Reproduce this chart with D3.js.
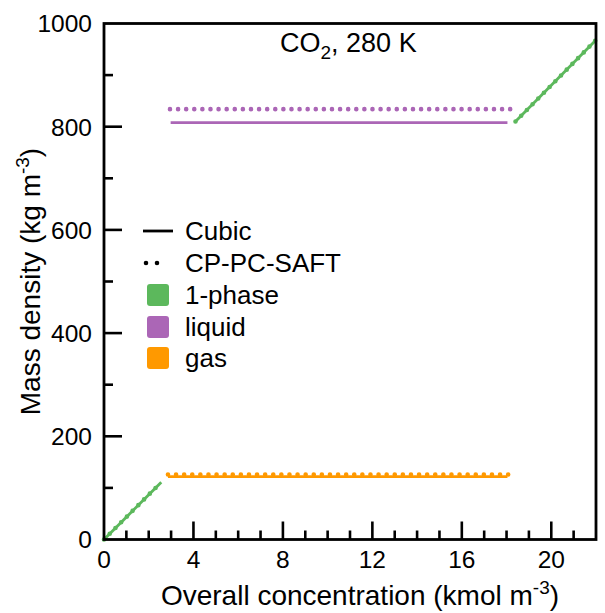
<!DOCTYPE html>
<html>
<head>
<meta charset="utf-8">
<script src="https://cdn.jsdelivr.net/npm/d3@7"></script>
<style>
  body { margin: 0; background: #fff; }
  text { font-family: "Liberation Sans", Arial, sans-serif; fill: #000; }
</style>
</head>
<body>
<svg id="chart" width="605" height="613"></svg>
<script>
// Mass density of CO2 at 280 K versus overall concentration
const xTicks = [0, 4, 8, 12, 16, 20];
const yTicks = [0, 200, 400, 600, 800, 1000];

// Cubic equation of state (solid lines): [concentration, density]
const cubicOnePhaseLow  = [[0, 0], [2.56, 111]];
const cubicOnePhaseHigh = [[18.4, 810], [22, 968]];
const cubicLiquid       = [[2.98, 808], [18.04, 808]];
const cubicGas          = [[2.86, 122], [18.04, 122]];

// CP-PC-SAFT (dotted lines)
const saftOnePhaseLow  = [[0, 0], [2.56, 111]];
const saftOnePhaseHigh = [[18.4, 810], [22, 968]];
const saftLiquid       = [[2.95, 834], [18.42, 834]];
const saftGas          = [[2.86, 126], [18.42, 126]];

const colors = { onePhase: "#5cb85c", liquid: "#ab66b6", gas: "#ff9900" };

const svg = d3.select("#chart");
const m = { left: 104, right: 596, top: 23.5, bottom: 539.5 };

const x = d3.scaleLinear().domain([0, 22]).range([m.left, m.right]);
const y = d3.scaleLinear().domain([0, 1000]).range([m.bottom, m.top]);
const line = d3.line().x(d => x(d[0])).y(d => y(d[1]));

// data lines
const plot = svg.append("g");
function solid(data, color) {
  plot.append("path").datum(data).attr("d", line)
    .attr("fill", "none").attr("stroke", color).attr("stroke-width", 2.8);
}
function dotted(data, color) {
  plot.append("path").datum(data).attr("d", line)
    .attr("fill", "none").attr("stroke", color).attr("stroke-width", 4.6)
    .attr("stroke-linecap", "round").attr("stroke-dasharray", "0 8.1");
}
solid(cubicOnePhaseLow, colors.onePhase);
solid(cubicOnePhaseHigh, colors.onePhase);
solid(cubicLiquid, colors.liquid);
solid(cubicGas, colors.gas);
dotted(saftOnePhaseLow, colors.onePhase);
dotted(saftOnePhaseHigh, colors.onePhase);
dotted(saftLiquid, colors.liquid);
dotted(saftGas, colors.gas);

// frame
svg.append("rect").attr("x", m.left).attr("y", m.top)
  .attr("width", m.right - m.left).attr("height", m.bottom - m.top)
  .attr("fill", "none").attr("stroke", "#000").attr("stroke-width", 2.8);

const tickFont = 24.5, titleFont = 28, legendFont = 26;

// x axis: inward ticks, minor every 1
const xAxis = svg.append("g").attr("transform", `translate(0,${m.bottom})`);
xAxis.selectAll("line.minor").data(d3.range(1, 22).filter(v => v % 4 !== 0))
  .join("line").attr("class", "minor").attr("x1", d => x(d)).attr("x2", d => x(d))
  .attr("y1", 0).attr("y2", -9).attr("stroke", "#000").attr("stroke-width", 2.6);
xAxis.selectAll("line.major").data(xTicks.filter(v => v > 0))
  .join("line").attr("class", "major").attr("x1", d => x(d)).attr("x2", d => x(d))
  .attr("y1", 0).attr("y2", -18).attr("stroke", "#000").attr("stroke-width", 2.6);
xAxis.selectAll("text").data(xTicks).join("text")
  .attr("x", d => x(d)).attr("y", 28.5).attr("text-anchor", "middle")
  .attr("font-size", tickFont).text(d => d);

// y axis: inward ticks, minor every 100
const yAxis = svg.append("g").attr("transform", `translate(${m.left},0)`);
yAxis.selectAll("line.minor").data(d3.range(100, 1000, 200))
  .join("line").attr("class", "minor").attr("y1", d => y(d)).attr("y2", d => y(d))
  .attr("x1", 0).attr("x2", 9).attr("stroke", "#000").attr("stroke-width", 2.6);
yAxis.selectAll("line.major").data(yTicks.filter(v => v > 0 && v < 1000))
  .join("line").attr("class", "major").attr("y1", d => y(d)).attr("y2", d => y(d))
  .attr("x1", 0).attr("x2", 18).attr("stroke", "#000").attr("stroke-width", 2.6);
yAxis.selectAll("text").data(yTicks).join("text")
  .attr("x", -12).attr("y", d => y(d) + 8.8).attr("text-anchor", "end")
  .attr("font-size", tickFont).text(d => d);

// axis titles
const xt = svg.append("text").attr("x", (m.left + m.right) / 2 + 10).attr("y", 605)
  .attr("text-anchor", "middle").attr("font-size", titleFont);
xt.append("tspan").text("Overall concentration (kmol m");
xt.append("tspan").attr("dy", -11).attr("font-size", 19).text("-3");
xt.append("tspan").attr("dy", 11).text(")");

const yt = svg.append("text")
  .attr("transform", `translate(40,${(m.top + m.bottom) / 2}) rotate(-90)`)
  .attr("text-anchor", "middle").attr("font-size", titleFont);
yt.append("tspan").text("Mass density (kg m");
yt.append("tspan").attr("dy", -11).attr("font-size", 19).text("-3");
yt.append("tspan").attr("dy", 11).text(")");

// title
const title = svg.append("text").attr("x", 280).attr("y", 52).attr("font-size", 27);
title.append("tspan").text("CO");
title.append("tspan").attr("dy", 7).attr("font-size", 19).text("2");
title.append("tspan").attr("dy", -7).text(", 280 K");

// legend
const legendStyles = ["Cubic", "CP-PC-SAFT"];
const legendPhases = [["1-phase", colors.onePhase], ["liquid", colors.liquid], ["gas", colors.gas]];
const lg = svg.append("g");
const rowY = [231, 263, 295, 327, 358];
lg.append("line").attr("x1", 143).attr("x2", 173).attr("y1", rowY[0]).attr("y2", rowY[0])
  .attr("stroke", "#000").attr("stroke-width", 2.8);
lg.append("line").attr("x1", 146).attr("x2", 168).attr("y1", rowY[1]).attr("y2", rowY[1])
  .attr("stroke", "#000").attr("stroke-width", 4.6).attr("stroke-linecap", "round")
  .attr("stroke-dasharray", "0 11");
legendStyles.forEach((t, i) => {
  lg.append("text").attr("x", 185).attr("y", rowY[i] + 9).attr("font-size", legendFont).text(t);
});
legendPhases.forEach(([t, c], i) => {
  const yy = rowY[i + 2];
  lg.append("rect").attr("x", 147).attr("y", yy - 11).attr("width", 22).attr("height", 22)
    .attr("rx", 3).attr("fill", c);
  lg.append("text").attr("x", 185).attr("y", yy + 9).attr("font-size", legendFont).text(t);
});
</script>
</body>
</html>
